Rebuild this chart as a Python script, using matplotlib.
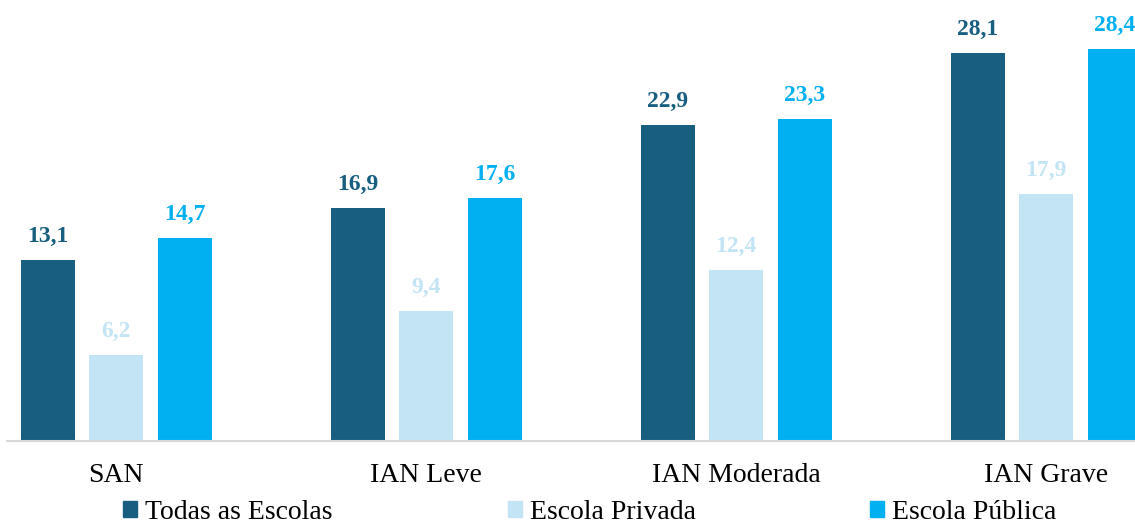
import numpy as np
import matplotlib
matplotlib.use("Agg")
import matplotlib.pyplot as plt
from matplotlib.patches import Patch

categories = ["SAN", "IAN Leve", "IAN Moderada", "IAN Grave"]
series = ["Todas as Escolas", "Escola Privada", "Escola Pública"]
todas = [13.1, 16.9, 22.9, 28.1]
privada = [6.2, 9.4, 12.4, 17.9]
publica = [14.7, 17.6, 23.3, 28.4]
colors = ["#175E80", "#C3E4F4", "#00B0F0"]

plt.rcParams["font.family"] = ["Liberation Serif", "DejaVu Serif"]

fig = plt.figure(figsize=(11.35, 5.25), dpi=100)
ax = fig.add_axes([7 / 1135, 84 / 525, 1128 / 1135, 428 / 525])

x = np.arange(len(categories))
width = 0.174
offset = 0.221
for i, (vals, col) in enumerate(zip([todas, privada, publica], colors)):
    pos = x + (i - 1) * offset
    ax.bar(pos, vals, width, color=col, label=series[i])
    for px_, v in zip(pos, vals):
        ax.annotate(f"{v:.1f}".replace(".", ","), (px_, v), xytext=(0, 13),
                    textcoords="offset points", ha="center", va="baseline",
                    fontsize=17, fontweight="bold", color=col,
                    annotation_clip=False)

ax.set_xlim(-0.352, 3.287)
ax.set_ylim(0, 31)
ax.set_yticks([])
ax.set_xticks(x, categories, fontsize=20)
ax.tick_params(axis="x", length=0, pad=16)
for s in ["top", "right", "left"]:
    ax.spines[s].set_visible(False)
ax.spines["bottom"].set_color("#D9D9D9")
ax.spines["bottom"].set_linewidth(1.5)

# legend entries placed individually, like the original
legend_x = [123 / 1135, 508 / 1135, 870 / 1135]
for lx, name, col in zip(legend_x, series, colors):
    fig.legend(handles=[Patch(color=col)], labels=[name], loc="center left",
               bbox_to_anchor=(lx, 12.5 / 525), frameon=False, fontsize=20,
               handlelength=0.5, handleheight=0.5, handletextpad=0.3,
               borderaxespad=0, borderpad=0)

fig.savefig("out.png", dpi=100)
